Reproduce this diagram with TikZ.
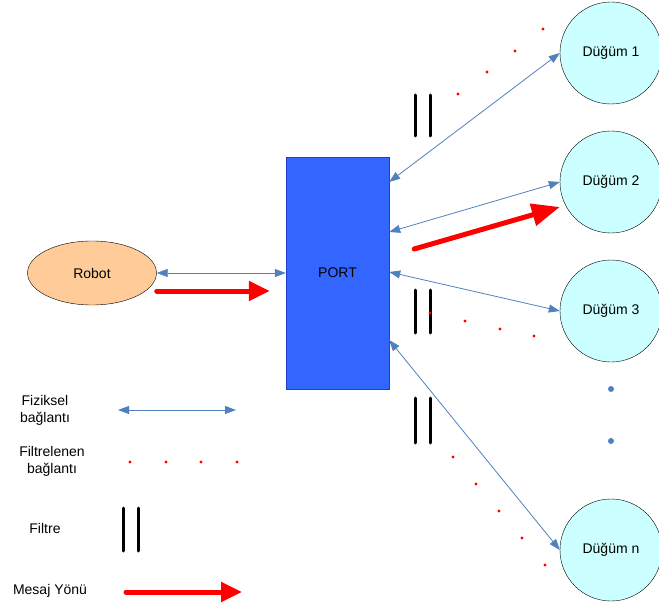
\documentclass[tikz,border=0pt]{standalone}
\usepackage{fontspec}
\setmainfont{Liberation Sans}
\usetikzlibrary{arrows.meta,shapes.geometric}
\definecolor{linkblue}{HTML}{4F81BD}
\definecolor{dugumcyan}{HTML}{CCFFFF}
\definecolor{robotfill}{HTML}{FFCC99}
\definecolor{portblue}{HTML}{3366FF}
\definecolor{portborder}{HTML}{1F3FCC}
\begin{document}
\begin{tikzpicture}[x=1pt, y=-1pt, font=\fontsize{14}{17}\selectfont,
    fiziksel/.style={draw=linkblue, line width=0.8pt,
        {Triangle[length=11pt,width=8pt]}-{Triangle[length=11pt,width=8pt]}},
    mesaj/.style={draw=red, line width=5pt, line cap=round,
        -{Triangle[length=21pt,width=19pt]}},
    filtre/.style={line width=3pt, line cap=round},
    dugum/.style={circle, draw, thin, fill=dugumcyan, minimum size=102pt, inner sep=0pt}]
    \useasboundingbox (0,0) rectangle (659,607);

    \node[ellipse, draw, thin, fill=robotfill, minimum width=129pt, minimum height=64pt] (robot) at (92,273) {Robot};
    \node[draw=portborder, fill=portblue, minimum width=103pt, minimum height=232pt] (port) at (337.5,273) {PORT};

    \node[dugum] (d1) at (611,53) {Düğüm 1};
    \node[dugum] (d2) at (611,182) {Düğüm 2};
    \node[dugum] (d3) at (611,311) {Düğüm 3};
    \node[dugum] (dn) at (611,550) {Düğüm n};
    \fill[linkblue] (611,389) circle (3pt) (611,441) circle (3pt);

    % fiziksel baglantilar
    \draw[fiziksel] (robot.east) -- (port.west);
    \draw[fiziksel] ([yshift=91pt]port.east) -- (d1.west);
    \draw[fiziksel] ([yshift=41pt]port.east) -- (d2.west);
    \draw[fiziksel] ([yshift=1pt]port.east) -- (d3.west);
    \draw[fiziksel] ([yshift=-67pt]port.east) -- (dn.west);

    % mesaj yonu
    \draw[mesaj] ([yshift=-18pt]robot.east) -- ([xshift=-16pt,yshift=-18pt]port.west);
    \draw[mesaj, -{Triangle[length=28pt,width=22pt]}] ([xshift=25pt,yshift=24pt]port.east) -- ([yshift=-25pt]d2.west);

    % filtreler
    \foreach \ya/\yb in {95/136, 290/333, 398/443}
        \draw[filtre] (415,\ya) -- (415,\yb) (430,\ya) -- (430,\yb);

    % filtrelenen baglantilar
    \foreach \p in {(458,94), (487,72), (515,51), (543,29),
                    (430,313), (465,321), (500,329), (534,336),
                    (453,457), (476,484), (499,511), (522,538), (545,565)}
        \fill[red] \p circle (1.6pt);

    % aciklama
    \node[align=center] (lfiz) at (45,410) {Fiziksel\\bağlantı};
    \node[align=center] (lfilb) at (52,461) {Filtrelenen\\bağlantı};
    \node (lfil) at (45,528) {Filtre};
    \node (lmes) at (50,591) {Mesaj Yönü};
    \coordinate (fiz1) at (118,410);
    \coordinate (fiz2) at (236,410);
    \draw[fiziksel] (fiz1) -- (fiz2);
    \foreach \x in {130,166,201,237}
        \fill[red] (\x,462) circle (1.6pt);
    \draw[filtre] (123,508) -- (123,551) (138,508) -- (138,551);
    \coordinate (mes1) at (126,592);
    \coordinate (mes2) at (242,592);
    \draw[mesaj] (mes1) -- (mes2);
\end{tikzpicture}
\end{document}
